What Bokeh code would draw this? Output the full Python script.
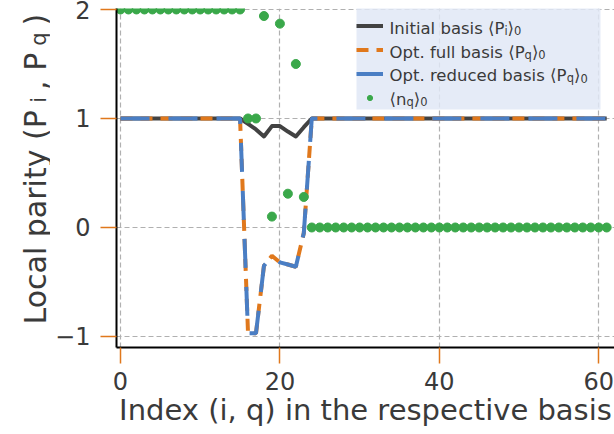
import math
from bokeh.plotting import figure
from bokeh.layouts import row
from bokeh.models import Range1d, FixedTicker, Label, Legend, LegendItem, BoxAnnotation
from bokeh.embed import file_html
from bokeh.resources import INLINE

# ---------------- data ----------------
index = [0, 1, 2, 3, 4, 5, 6, 7, 8, 9, 10, 11, 12, 13, 14, 15, 16, 17, 18, 19,
         20, 21, 22, 23, 24, 25, 26, 27, 28, 29, 30, 31, 32, 33, 34, 35, 36, 37, 38, 39,
         40, 41, 42, 43, 44, 45, 46, 47, 48, 49, 50, 51, 52, 53, 54, 55, 56, 57, 58, 59,
         60, 61]
initial_parity = [1, 1, 1, 1, 1, 1, 1, 1, 1, 1, 1, 1, 1, 1, 1, 1,
                  0.95, 0.90, 0.835, 0.93, 0.93, 0.88, 0.835, 0.92,
                  1, 1, 1, 1, 1, 1, 1, 1, 1, 1, 1, 1, 1, 1, 1, 1, 1, 1, 1,
                  1, 1, 1, 1, 1, 1, 1, 1, 1, 1, 1, 1, 1, 1, 1, 1, 1, 1, 1]
full_parity = [1, 1, 1, 1, 1, 1, 1, 1, 1, 1, 1, 1, 1, 1, 1, 1,
               -0.97, -0.97, -0.35, -0.26, -0.32, -0.34, -0.36, -0.05,
               1, 1, 1, 1, 1, 1, 1, 1, 1, 1, 1, 1, 1, 1, 1, 1, 1, 1, 1,
               1, 1, 1, 1, 1, 1, 1, 1, 1, 1, 1, 1, 1, 1, 1, 1, 1, 1, 1]
reduced_parity = [1, 1, 1, 1, 1, 1, 1, 1, 1, 1, 1, 1, 1, 1, 1, 1,
                  -0.97, -0.97, -0.35, -0.26, -0.32, -0.34, -0.36, -0.05,
                  1, 1, 1, 1, 1, 1, 1, 1, 1, 1, 1, 1, 1, 1, 1, 1, 1, 1, 1,
                  1, 1, 1, 1, 1, 1, 1, 1, 1, 1, 1, 1, 1, 1, 1, 1, 1, 1, 1]
occupation = [2, 2, 2, 2, 2, 2, 2, 2, 2, 2, 2, 2, 2, 2, 2, 2,
              1.0, 1.0, 1.94, 0.10, 1.87, 0.31, 1.50, 0.28,
              0, 0, 0, 0, 0, 0, 0, 0, 0, 0, 0, 0, 0, 0, 0, 0, 0, 0, 0,
              0, 0, 0, 0, 0, 0, 0, 0, 0, 0, 0, 0, 0, 0, 0, 0, 0, 0, 0]
x_ticks = [0, 20, 40, 60]
y_ticks = [-1, 0, 1, 2]
y_tick_labels = {-1: "\u22121", 0: "0", 1: "1", 2: "2"}

x_label = "Index (i, q) in the respective basis"
y_label_parts = [("Local parity (P", False), ("i", True), (", P", False), ("q", True), (")", False)]
legend_rows = [
    [("Initial basis \u27e8P", False), ("i", True), ("\u27e9", False), ("0", True)],
    [("Opt. full basis \u27e8P", False), ("q", True), ("\u27e9", False), ("0", True)],
    [("Opt. reduced basis \u27e8P", False), ("q", True), ("\u27e9", False), ("0", True)],
    [("\u27e8n", False), ("q", True), ("\u27e9", False), ("0", True)],
]

# ---------------- style ----------------
GRAY = "#424242"
ORANGE = "#e0781c"
BLUE = "#4a7ec4"
GREEN = "#3aa84a"
TEXT = "#3a3a3a"
FONT = "DejaVu Sans"

X0, X1 = -0.502, 61.98
Y0, Y1 = -1.101, 2.009
W_PAGE, H_PAGE = 614, 434
W_LEFT = 50                # narrow strip holding the y-axis title
FL, FT, FB = 116, 8, 347   # frame left / top / bottom in page pixels
SXS = (W_PAGE - FL) / (X1 - X0)
SYS = (FB - FT) / (Y1 - Y0)


def dx(px):
    return X0 + (px - FL) / SXS


def dy(py):
    return Y1 - (py - FT) / SYS


# ---------------- main plot ----------------
p = figure(width=W_PAGE - W_LEFT, height=H_PAGE, x_range=Range1d(X0, X1), y_range=Range1d(Y0, Y1),
           output_backend="svg", toolbar_location=None,
           min_border_left=FL - W_LEFT, min_border_right=0, min_border_top=FT,
           min_border_bottom=H_PAGE - FB)
p.outline_line_color = None
p.background_fill_color = "white"
p.border_fill_color = "white"

for ax in (p.xaxis[0], p.yaxis[0]):
    ax.axis_line_color = "black"
    ax.axis_line_width = 2
    ax.major_tick_in = 0
    ax.major_tick_out = 16
    ax.major_tick_line_color = ORANGE
    ax.major_tick_line_width = 1.5
    ax.minor_tick_line_color = None
    ax.major_label_text_font = FONT
    ax.major_label_text_font_size = "24px"
    ax.major_label_text_color = TEXT

p.xaxis.ticker = FixedTicker(ticks=x_ticks)
p.yaxis.ticker = FixedTicker(ticks=y_ticks)
p.yaxis.major_label_overrides = y_tick_labels
p.xaxis.major_label_standoff = 8
p.yaxis.major_label_standoff = 10
p.xaxis.axis_label = x_label
p.xaxis.axis_label_text_font = FONT
p.xaxis.axis_label_text_font_size = "29px"
p.xaxis.axis_label_text_font_style = "normal"
p.xaxis.axis_label_text_color = TEXT
p.xaxis.axis_label_standoff = 0

for g in (p.xgrid[0], p.ygrid[0]):
    g.grid_line_color = "#b0b0b0"
    g.grid_line_dash = "5 3"
    g.grid_line_width = 1.2
p.xgrid.ticker = FixedTicker(ticks=x_ticks)
p.ygrid.ticker = FixedTicker(ticks=y_ticks)

# legend background (drawn beneath the data but above the grid)
p.add_layout(BoxAnnotation(left=dx(356), right=dx(600), top=dy(7), bottom=dy(109),
                           fill_color="#e0e8f6", fill_alpha=0.85, line_color=None,
                           level="underlay"))

r_init = p.line(index, initial_parity, line_color=GRAY, line_width=4, line_join="round")
r_full = p.line(index, full_parity, line_color=ORANGE, line_width=4, line_dash="12 8")
r_red = p.line(index, reduced_parity, line_color=BLUE, line_width=4, line_dash="29 19")
r_occ = p.scatter(index, occupation, size=9, fill_color=GREEN, line_color=GREEN)

legend = Legend(items=[LegendItem(label=" ", renderers=[r]) for r in (r_init, r_full, r_red, r_occ)],
                location=(240, 238), padding=3, spacing=0, margin=0,
                glyph_width=27, glyph_height=13, label_height=24, label_width=215,
                label_standoff=3, label_text_font_size="8px",
                border_line_color=None, background_fill_alpha=0.0)
p.add_layout(legend)

# --------- text with subscripts (DejaVu Sans advance widths, units/2048) ---------
W = {' ': 651, '(': 799, ')': 799, ',': 651, '.': 651, '0': 1303, 'I': 604, 'L': 1141,
     'O': 1612, 'P': 1235, 'a': 1255, 'b': 1300, 'c': 1126, 'd': 1300, 'e': 1260,
     'f': 721, 'h': 1298, 'i': 569, 'l': 569, 'n': 1298, 'o': 1253, 'p': 1300,
     'q': 1300, 'r': 842, 's': 1067, 't': 803, 'u': 1298, 'v': 1212, 'x': 1212,
     'y': 1212, '\u27e8': 799, '\u27e9': 799}


def text_width(s, fs):
    return sum(W.get(c, 1200) for c in s) * fs / 2048.0


def place(fig, parts, x_pos, y_pos, size, to_x, to_y, rotate=False, gap=0.0, drop_frac=0.17):
    cursor = 0.0
    for txt, sub in parts:
        fs = size * 0.7 if sub else size
        drop = size * drop_frac if sub else 0.0
        if rotate:
            sx, sy = x_pos + drop, y_pos - cursor
        else:
            sx, sy = x_pos + cursor, y_pos + drop
        fig.add_layout(Label(x=to_x(sx), y=to_y(sy), text=txt,
                             angle=math.pi / 2 if rotate else 0, level="overlay",
                             text_align="left", text_baseline="alphabetic",
                             text_font=FONT, text_font_size=f"{fs:.1f}px",
                             text_color=TEXT))
        cursor += text_width(txt, fs) + gap


for items, base in zip(legend_rows, [27.5, 51.5, 75.0, 98.5]):
    place(p, items, 389, base, 16.5, dx, dy)

# ---------------- strip with the y-axis title ----------------
# (its frame is aligned with the main frame by the row layout: page rows FT..FB)
t = figure(width=W_LEFT, height=H_PAGE, x_range=Range1d(0, W_LEFT), y_range=Range1d(FB, FT),
           output_backend="svg", toolbar_location=None,
           x_axis_location=None, y_axis_location=None, min_border=0)
t.outline_line_color = None
t.grid.visible = False
t.background_fill_color = "white"
t.border_fill_color = "white"
place(t, y_label_parts, 35, 324, 30, lambda v: v, lambda v: v, rotate=True, gap=7.0,
      drop_frac=0.12)

layout = row(t, p, spacing=0)
open("out.html", "w").write(file_html(layout, INLINE))
